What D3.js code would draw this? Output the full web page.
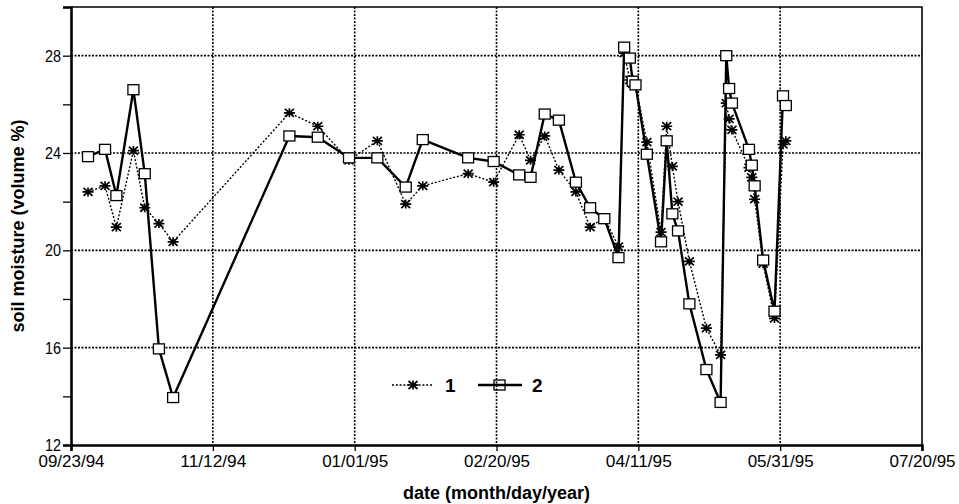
<!DOCTYPE html>
<html>
<head>
<meta charset="utf-8">
<script src="https://cdn.jsdelivr.net/npm/d3@7"></script>
<style>
    body { margin: 0; background: #fff; }
    .tick text { font-family: "Liberation Sans Narrow", "Arial Narrow", "Liberation Sans", Arial, sans-serif; }
</style>
</head>
<body>
<script>
// measurement dates and soil moisture (volume %) for the two probes
const dates = [
    "1994-09-29", "1994-10-05", "1994-10-09", "1994-10-15", "1994-10-19", "1994-10-24", "1994-10-29",
    "1994-12-09", "1994-12-19", "1994-12-30", "1995-01-09", "1995-01-19", "1995-01-25",
    "1995-02-10", "1995-02-19", "1995-02-28", "1995-03-04", "1995-03-09", "1995-03-14",
    "1995-03-20", "1995-03-25", "1995-03-30", "1995-04-04", "1995-04-06", "1995-04-08",
    "1995-04-09", "1995-04-10", "1995-04-14", "1995-04-19", "1995-04-21", "1995-04-23",
    "1995-04-25", "1995-04-29", "1995-05-05", "1995-05-10", "1995-05-12", "1995-05-13",
    "1995-05-14", "1995-05-20", "1995-05-21", "1995-05-22", "1995-05-25", "1995-05-29",
    "1995-06-01", "1995-06-02"
];
const probe1 = [
    22.4, 22.65, 20.95, 24.1, 21.75, 21.1, 20.35,
    25.65, 25.1, 23.7, 24.5, 21.9, 22.65,
    23.15, 22.8, 24.75, 23.7, 24.7, 23.3,
    22.4, 20.95, 21.35, 20.15, 28.1, 27.0,
    26.85, 26.8, 24.45, 20.75, 25.1, 23.45,
    22.0, 19.55, 16.8, 15.7, 26.05, 25.4,
    24.95, 23.4, 23.0, 22.1, 19.45, 17.2,
    24.35, 24.5
];
const probe2 = [
    23.85, 24.15, 22.25, 26.6, 23.15, 15.95, 13.95,
    24.7, 24.65, 23.8, 23.8, 22.6, 24.55,
    23.8, 23.65, 23.1, 23.0, 25.6, 25.35,
    22.8, 21.75, 21.3, 19.7, 28.35, 27.9,
    26.95, 26.8, 23.95, 20.35, 24.5, 21.5,
    20.8, 17.8, 15.1, 13.75, 28.0, 26.65,
    26.05, 24.15, 23.5, 22.65, 19.6, 17.5,
    26.35, 25.95
];
const seriesNames = ["1", "2"];
const xTickLabels = ["09/23/94", "11/12/94", "01/01/95", "02/20/95", "04/11/95", "05/31/95", "07/20/95"];
const yTickLabels = [12, 16, 20, 24, 28];

const width = 959;
const height = 504;
let margin = { top: 7, right: 37, bottom: 59, left: 71 };

let parseDay = d3.utcParse("%Y-%m-%d");
let parseTick = d3.utcParse("%m/%d/%y");
let fmtTick = d3.utcFormat("%m/%d/%y");
let tickDates = xTickLabels.map(parseTick);

let svg = d3.select("body")
    .append("svg")
    .attr("width", width)
    .attr("height", height);

let xScale = d3.scaleUtc()
    .domain([tickDates[0], tickDates[tickDates.length - 1]])
    .range([margin.left, width - margin.right]);

let yScale = d3.scaleLinear()
    .domain([12, 30])
    .range([height - margin.bottom, margin.top]);

// grid
svg.append("g")
    .selectAll("line")
    .data(yTickLabels.slice(1))
    .join("line")
    .attr("x1", margin.left)
    .attr("x2", width - margin.right)
    .attr("y1", d => yScale(d))
    .attr("y2", d => yScale(d))
    .attr("stroke", "#000")
    .attr("stroke-width", 1.6)
    .attr("stroke-dasharray", "2,1.5");

svg.append("g")
    .selectAll("line")
    .data(tickDates.slice(1, -1))
    .join("line")
    .attr("x1", d => xScale(d))
    .attr("x2", d => xScale(d))
    .attr("y1", margin.top)
    .attr("y2", height - margin.bottom)
    .attr("stroke", "#000")
    .attr("stroke-width", 1.6)
    .attr("stroke-dasharray", "2,1.5");

// frame top / right
svg.append("path")
    .attr("d", `M${margin.left},${margin.top}H${width - margin.right}V${height - margin.bottom}`)
    .attr("fill", "none")
    .attr("stroke", "#000")
    .attr("stroke-width", 1.6);

// axes
let bottomAxis = d3.axisBottom(xScale)
    .tickValues(tickDates)
    .tickFormat(fmtTick)
    .tickSize(6)
    .tickPadding(5);

let leftAxis = d3.axisLeft(yScale)
    .tickValues(d3.range(12, 31, 2))
    .tickFormat(d => yTickLabels.includes(d) ? d : "")
    .tickSize(8)
    .tickPadding(2);

let bottomContainer = svg.append("g")
    .attr("transform", `translate(0, ${height - margin.bottom})`)
    .call(bottomAxis);

let leftContainer = svg.append("g")
    .attr("transform", `translate(${margin.left}, 0)`)
    .call(leftAxis);

[bottomContainer, leftContainer].forEach(c => {
    c.select(".domain").attr("stroke-width", 2.6);
    c.selectAll(".tick line").attr("stroke-width", 1.3);
    c.selectAll(".tick text").style("font-size", "16px").attr("fill", "#000")
        .attr("lengthAdjust", "spacingAndGlyphs");
});
// narrow (condensed) tick labels like the original
bottomContainer.selectAll(".tick text").attr("textLength", 66);
leftContainer.selectAll(".tick text")
    .attr("dy", "0.35em")
    .attr("textLength", d => yTickLabels.includes(d) ? 16 : null);

// axis titles
svg.append("text")
    .text("date (month/day/year)")
    .attr("x", (margin.left + width - margin.right) / 2)
    .attr("y", 499)
    .attr("text-anchor", "middle")
    .style("font-family", "Liberation Sans, Arial, sans-serif")
    .style("font-weight", "bold")
    .style("font-size", "18px");

svg.append("text")
    .text("soil moisture (volume %)")
    .attr("text-anchor", "middle")
    .attr("transform", `translate(24, ${(margin.top + height - margin.bottom) / 2}) rotate(-90)`)
    .style("font-family", "Liberation Sans, Arial, sans-serif")
    .style("font-weight", "bold")
    .style("font-size", "18px");

// series
let rows = dates.map((d, i) => ({ date: parseDay(d), v1: probe1[i], v2: probe2[i] }));

let line1 = d3.line().x(d => xScale(d.date)).y(d => yScale(d.v1));
let line2 = d3.line().x(d => xScale(d.date)).y(d => yScale(d.v2));

const starPath = "M-5.5,0H5.5M0,-4.5V4.5M-4.5,-4L4.5,4M-4.5,4L4.5,-4";

svg.append("path")
    .datum(rows)
    .attr("d", line1)
    .attr("fill", "none")
    .attr("stroke", "#000")
    .attr("stroke-width", 1.4)
    .attr("stroke-dasharray", "2,1.8");

svg.append("path")
    .datum(rows)
    .attr("d", line2)
    .attr("fill", "none")
    .attr("stroke", "#000")
    .attr("stroke-width", 2.4)
    .attr("stroke-linejoin", "round");

svg.append("g")
    .selectAll("path")
    .data(rows)
    .join("path")
    .attr("d", starPath)
    .attr("transform", d => `translate(${xScale(d.date)}, ${yScale(d.v1)})`)
    .attr("stroke", "#000")
    .attr("stroke-width", 1.7)
    .attr("fill", "none");

svg.append("g")
    .selectAll("rect")
    .data(rows)
    .join("rect")
    .attr("x", d => xScale(d.date) - 5.5)
    .attr("y", d => yScale(d.v2) - 5)
    .attr("width", 11)
    .attr("height", 10)
    .attr("fill", "#fff")
    .attr("stroke", "#000")
    .attr("stroke-width", 1.3);

// legend
let legend = svg.append("g").attr("transform", "translate(392, 385)");

let key = legend.selectAll("g")
    .data(seriesNames)
    .join("g")
    .attr("transform", (d, i) => `translate(${i * 86}, 0)`);

key.append("line")
    .attr("x1", 0)
    .attr("x2", (d, i) => i ? 44 : 41)
    .attr("stroke", "#000")
    .attr("stroke-width", (d, i) => i ? 2.4 : 1.4)
    .attr("stroke-dasharray", (d, i) => i ? null : "2,1.8");

key.filter((d, i) => i === 0)
    .append("path")
    .attr("d", starPath)
    .attr("transform", "translate(21, 0)")
    .attr("stroke", "#000")
    .attr("stroke-width", 1.7);

key.filter((d, i) => i === 1)
    .append("rect")
    .attr("x", 16)
    .attr("y", -5)
    .attr("width", 11)
    .attr("height", 10)
    .attr("fill", "none")
    .attr("stroke", "#000")
    .attr("stroke-width", 1.3);

key.append("text")
    .text(d => d)
    .attr("x", (d, i) => i ? 54 : 53)
    .attr("dy", "0.35em")
    .style("font-family", "Liberation Sans, Arial, sans-serif")
    .style("font-weight", "bold")
    .style("font-size", "19px");
</script>
</body>
</html>
